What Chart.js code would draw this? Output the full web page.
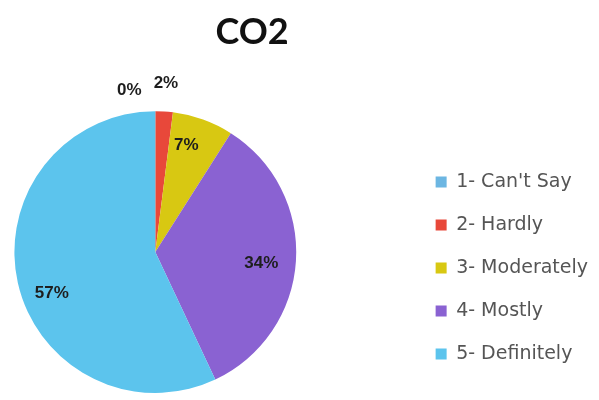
<!DOCTYPE html>
<html>
<head>
<meta charset="utf-8">
<script src="https://cdn.jsdelivr.net/npm/chart.js@4"></script>
<style>
	html, body { margin: 0; padding: 0; background: #fff; }
	body { width: 599px; height: 400px; overflow: hidden; position: relative; }
	/* canvas hangs off the left edge so the title centres over the whole picture like the original */
	#wrap { position: absolute; left: -94px; top: 0; width: 692px; height: 400px; }
</style>
</head>
<body>
<div id="wrap"><canvas id="chartCo2"></canvas></div>
<script>
	// Data
	var chartTitle = 'CO2';
	var categories = ['1- Can\'t Say', '2- Hardly', '3- Moderately', '4- Mostly', '5- Definitely'];
	var shares = [0, 2, 7, 34, 57];

	// Styling
	var sliceColors = ['#6cb6e2', '#e8483a', '#d8c812', '#8a62d2', '#5cc4ed'];
	var labelRadius = [1.163, 1.2, 0.79, 0.756, 0.79];
	var labelTurn = [-9.1, 0, -3.6, 2.3, -8.9];

	// Percent labels on the slices (no datalabels plugin offline)
	var sliceLabels = {
		id: 'sliceLabels',
		afterDatasetsDraw: function(chart) {
			var ctx = chart.ctx;
			var meta = chart.getDatasetMeta(0);
			ctx.save();
			ctx.font = 'bold 17px "Liberation Sans", sans-serif';
			ctx.fillStyle = '#1e1e1e';
			ctx.textAlign = 'center';
			ctx.textBaseline = 'middle';
			meta.data.forEach(function(arc, i) {
				var p = arc.getProps(['x', 'y', 'startAngle', 'endAngle', 'outerRadius'], true);
				var mid = (p.startAngle + p.endAngle) / 2 + labelTurn[i] * Math.PI / 180;
				var r = p.outerRadius * labelRadius[i];
				ctx.fillText(shares[i] + '%', p.x + Math.cos(mid) * r, p.y + Math.sin(mid) * r);
			});
			ctx.restore();
		}
	};

	// empty box between the pie and the legend, keeps the pie on the left
	var legendGap = {
		id: 'legendGap',
		beforeInit: function(chart) {
			Chart.layouts.addBox(chart, {
				position: 'right',
				weight: 0,
				fullSize: false,
				options: {},
				isHorizontal: function() { return false; },
				update: function(maxWidth, maxHeight) {
					this.width = 7;
					this.height = maxHeight;
				},
				draw: function() {}
			});
		},
		// the extra box halves the width the legend may take, give it back
		beforeLayout: function(chart) {
			var lg = chart.legend;
			if (lg && !lg._wideFit) {
				var fit = lg.fit;
				lg.fit = function() {
					this.maxWidth = 300;
					fit.call(this);
				};
				lg._wideFit = true;
			}
		}
	};

	var myChart = new Chart(document.getElementById('chartCo2'), {
		type: 'pie',
		data: {
			labels: categories,
			datasets: [{
				data: shares,
				backgroundColor: sliceColors,
				borderWidth: 0
			}]
		},
		options: {
			responsive: true,
			maintainAspectRatio: false,
			devicePixelRatio: 1,
			animation: false,
			layout: {
				padding: { left: 0, right: 0, top: 0, bottom: 7 }
			},
			plugins: {
				title: {
					display: true,
					text: chartTitle,
					color: '#111',
					font: { family: 'Lato, "Liberation Sans", sans-serif', size: 36, weight: 'bold' },
					padding: { top: 11, bottom: 57 }
				},
				legend: {
					position: 'right',
					fullSize: false,
					title: {
						display: true,
						text: '',
						font: { size: 10 },
						padding: { top: 10, bottom: 10 }
					},
					labels: {
						boxWidth: 11,
						boxHeight: 11,
						padding: 24,
						color: '#555',
						font: { family: '"DejaVu Sans", sans-serif', size: 19 }
					}
				},
				tooltip: { enabled: false }
			}
		},
		plugins: [sliceLabels, legendGap]
	});
</script>
</body>
</html>
